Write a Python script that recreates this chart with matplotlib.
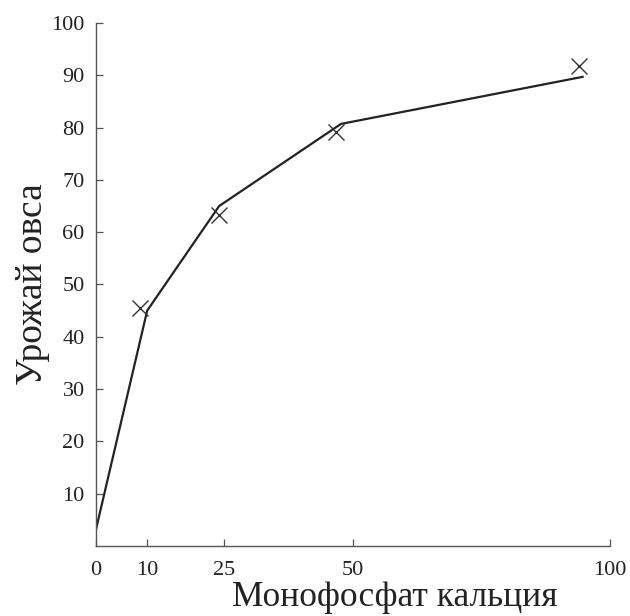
import matplotlib.pyplot as plt

plt.rcParams['font.family'] = ['Liberation Serif', 'DejaVu Serif']

# curve (fitted line) and measured points
line_x = [0, 10, 24, 47.7, 94.7]
line_y = [3, 45, 65, 80.7, 89.7]
pts_x = [8.6, 23.9, 46.7, 94]
pts_y = [45.5, 63.3, 79.2, 91.8]

xticks = [0, 10, 25, 50, 100]
yticks = [10, 20, 30, 40, 50, 60, 70, 80, 90, 100]

fig = plt.figure(figsize=(6.3, 6.16), dpi=100)
ax = fig.add_axes([0.152, 0.1136, 0.816, 0.8491])

ax.plot(line_x, line_y, color='#222222', lw=1.6, solid_joinstyle='miter')
ax.plot(pts_x, pts_y, 'x', color='#333333', ms=11, mew=1.0)

ax.set_xlim(0, 100)
ax.set_ylim(0, 100)
ax.set_xticks(xticks)
ax.set_yticks(yticks)
ax.tick_params(direction='in', length=5, width=0.9, color='#555555',
               labelsize=16, labelcolor='#222222')
ax.tick_params(axis='x', pad=11)
ax.tick_params(axis='y', pad=8)

for side in ['top', 'right']:
    ax.spines[side].set_visible(False)
for side in ['left', 'bottom']:
    ax.spines[side].set_color('#555555')
    ax.spines[side].set_linewidth(1.0)

ax.set_xlabel('Монофосфат кальция', fontsize=25.5, color='#222222')
ax.xaxis.set_label_coords(0.582, -0.099, transform=ax.transAxes)
ax.xaxis.label.set_verticalalignment('center')
ax.set_ylabel('Урожай овса', fontsize=27, color='#222222', labelpad=1)

fig.savefig('out.png', dpi=100)
